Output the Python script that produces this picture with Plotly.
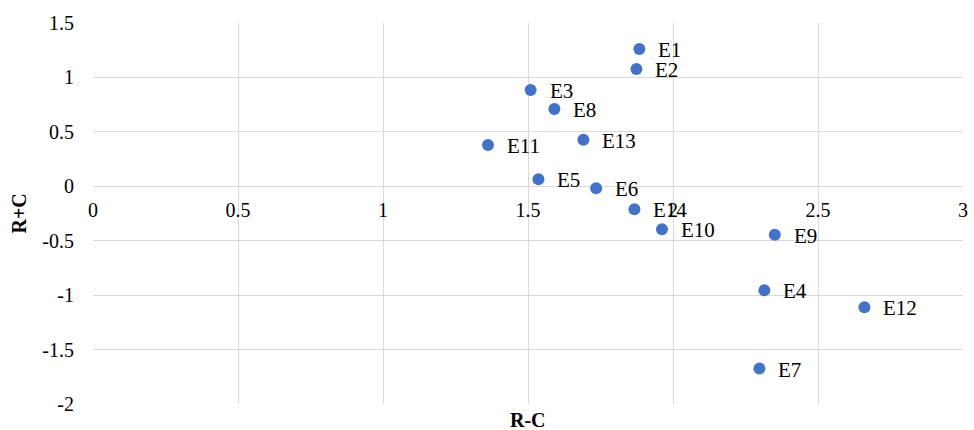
import plotly.graph_objects as go

labels = ["E1", "E2", "E3", "E8", "E13", "E11", "E5", "E6", "E14", "E10", "E9", "E4", "E12", "E7"]
r_minus_c = [1.884, 1.874, 1.509, 1.591, 1.691, 1.362, 1.536, 1.735, 1.867, 1.962, 2.351, 2.315, 2.660, 2.298]
r_plus_c = [1.262, 1.078, 0.884, 0.709, 0.427, 0.379, 0.064, -0.017, -0.210, -0.394, -0.446, -0.955, -1.112, -1.674]

x_ticks = [0, 0.5, 1, 1.5, 2, 2.5, 3]
x_ticktext = ["0", "0.5", "1", "1.5", "2", "2.5", "3"]
y_ticks = [1.5, 1, 0.5, 0, -0.5, -1, -1.5, -2]
y_ticktext = ["1.5", "1", "0.5", "0", "-0.5", "-1", "-1.5", "-2"]

FONT = "Liberation Serif"
GRID = "#d9d9d9"

fig = go.Figure()
fig.add_trace(go.Scatter(
    x=r_minus_c, y=r_plus_c, mode="markers",
    marker=dict(color="#4472C4", size=12),
    hoverinfo="text", text=labels, showlegend=False,
))

annotations = []
for lab, xv, yv in zip(labels, r_minus_c, r_plus_c):
    annotations.append(dict(
        x=xv, y=yv, xref="x", yref="y", text=lab, showarrow=False,
        xanchor="left", yanchor="middle", xshift=17, yshift=-1,
        font=dict(family=FONT, size=21, color="#000000"),
    ))

annotations.append(dict(
    x=0.5, y=0, xref="paper", yref="paper", yshift=-16,
    text="<b>R-C</b>", showarrow=False, xanchor="center", yanchor="middle",
    font=dict(family=FONT, size=20, color="#000000"),
))
annotations.append(dict(
    x=0, y=0.5, xref="paper", yref="paper", xshift=-75,
    text="<b>R+C</b>", showarrow=False, textangle=-90,
    xanchor="center", yanchor="middle",
    font=dict(family=FONT, size=20, color="#000000"),
))

y0_frac = (0 - (-2)) / (1.5 - (-2))

fig.update_layout(
    width=974, height=430,
    margin=dict(l=93, r=6, t=23, b=26),
    paper_bgcolor="white", plot_bgcolor="white",
    annotations=annotations,
    xaxis=dict(
        range=[0, 3], tickvals=x_ticks, ticktext=x_ticktext,
        showgrid=True, gridcolor=GRID, gridwidth=1,
        zeroline=False, showline=False,
        anchor="free", position=y0_frac,
        ticks="outside", ticklen=6, tickcolor="rgba(0,0,0,0)",
        tickfont=dict(family=FONT, size=20, color="#000000"),
    ),
    yaxis=dict(
        range=[-2, 1.5], tickvals=y_ticks, ticktext=y_ticktext,
        showgrid=True, gridcolor=GRID, gridwidth=1,
        zeroline=False, showline=False,
        ticks="outside", ticklen=14, tickcolor="rgba(0,0,0,0)",
        tickfont=dict(family=FONT, size=20, color="#000000"),
    ),
)

fig.write_html("out.html", config={"displayModeBar": False},
               post_script="document.body.style.margin='0';")
